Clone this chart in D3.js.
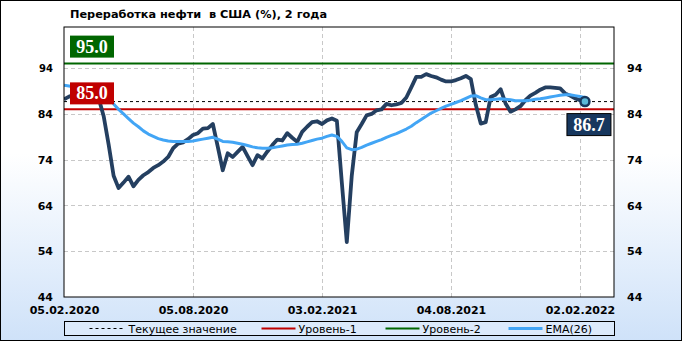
<!DOCTYPE html>
<html>
<head>
<meta charset="utf-8">
<script src="https://cdn.jsdelivr.net/npm/d3@7"></script>
<style>
  body { margin: 0; background: #fff; }
  svg { display: block; }
</style>
</head>
<body>
<div class="chart"></div>
<script>
  const title = 'Переработка нефти  в США (%), 2 года';
  const startDate = '05.02.2020';
  const endDate = '22.03.2022';
  // weekly refinery utilization, %
  const usage = [
    87.2, 87.8, 88.1, 88.4, 88.0, 87.6, 87.2, 87.4, 83.5, 77.3,
    70.5, 67.8, 69.0, 70.3, 68.2, 69.6, 70.6, 71.3, 72.2, 72.8,
    73.6, 74.6, 76.5, 77.5, 77.8, 78.5, 79.4, 79.8, 80.8, 80.9,
    81.8, 76.8, 71.7, 75.4, 74.6, 75.7, 76.8, 74.8, 72.8, 75.0,
    74.3, 75.8, 77.2, 78.4, 78.2, 79.8, 78.8, 77.9, 80.1, 81.2,
    82.2, 82.4, 81.8, 82.6, 83.0, 82.5, 69.0, 56.0, 70.5, 80.0,
    81.8, 83.7, 84.0, 84.8, 85.0, 86.2, 85.9, 86.1, 86.4, 87.6,
    89.8, 92.1, 92.1, 92.7, 92.3, 92.0, 91.5, 91.1, 91.1, 91.4,
    91.8, 92.3, 91.6, 86.0, 81.9, 82.2, 87.7, 88.2, 89.4, 86.3,
    84.5, 85.0, 85.7, 87.0, 88.0, 88.6, 89.3, 89.8, 89.8, 89.7,
    89.6, 88.5, 88.0, 87.4, 87.0, 86.7,
  ];
  const ema = [
    90.3, 90.1, 89.9, 89.7, 89.5, 89.3, 89.1, 88.9, 88.6, 87.6,
    86.2, 85.0, 84.0, 83.0, 82.0, 81.2, 80.3, 79.6, 79.1, 78.6,
    78.3, 78.1, 78.0, 78.0, 78.0, 78.0, 78.1, 78.3, 78.5, 78.7,
    78.9, 78.5, 78.0, 77.9, 77.8, 77.6, 77.4, 77.1, 76.8, 76.6,
    76.5, 76.5, 76.6, 76.8, 77.0, 77.2, 77.3, 77.4, 77.6, 77.9,
    78.2, 78.5, 78.7, 79.1, 79.4, 79.1, 78.0, 76.6, 76.2, 76.3,
    76.7, 77.2, 77.6, 78.0, 78.4, 78.9, 79.3, 79.7, 80.2, 80.7,
    81.3, 82.1, 82.8, 83.5, 84.2, 84.7, 85.2, 85.7, 86.1, 86.5,
    86.9, 87.4, 87.9, 88.0, 87.5, 87.1, 87.1, 87.2, 87.3, 87.2,
    87.1, 86.9, 86.9, 86.9, 87.0, 87.2, 87.3, 87.5, 87.7, 87.9,
    88.1, 88.2, 88.2, 88.0, 87.8, 87.6,
  ];
  const level1 = 85.0;
  const level2 = 95.0;
  const current = 86.7;
  const yTicks = [44, 54, 64, 74, 84, 94];
  const yDomain = [44, 103];
  const xTickLabels = ['05.02.2020', '05.08.2020', '03.02.2021', '04.08.2021', '02.02.2022'];
  const legendLabels = ['Текущее значение', 'Уровень-1', 'Уровень-2', 'EMA(26)'];

  const W = 682;
  const H = 341;
  const margin = { top: 27, right: 68, bottom: 44, left: 64 };
  const width = W - margin.left - margin.right;
  const height = H - margin.top - margin.bottom;

  const parse = d3.timeParse('%d.%m.%Y');
  const fmt = d3.timeFormat('%d.%m.%Y');
  const start = parse(startDate);
  const dates = usage.map((d, i) => d3.timeDay.offset(start, 7 * i));
  const xTicks = xTickLabels.map(parse);

  const svg = d3
    .select('.chart')
    .append('svg')
    .attr('width', W)
    .attr('height', H);

  const defs = svg.append('defs');
  const grad = defs
    .append('linearGradient')
    .attr('id', 'bg')
    .attr('x1', 0)
    .attr('y1', 0)
    .attr('x2', 0)
    .attr('y2', 1);
  grad.append('stop').attr('offset', '0%').attr('stop-color', '#ffffff');
  grad.append('stop').attr('offset', '45%').attr('stop-color', '#ffffff');
  grad.append('stop').attr('offset', '100%').attr('stop-color', '#cfe2f9');

  defs
    .append('clipPath')
    .attr('id', 'clip')
    .append('rect')
    .attr('width', width)
    .attr('height', height);

  svg
    .append('rect')
    .attr('x', 0.5)
    .attr('y', 0.5)
    .attr('width', W - 1)
    .attr('height', H - 1)
    .attr('fill', 'url(#bg)')
    .attr('stroke', '#000');

  svg
    .append('text')
    .attr('x', 70)
    .attr('y', 18)
    .attr('font-family', 'DejaVu Sans')
    .attr('font-weight', 'bold')
    .attr('font-size', '11.3px')
    .attr('fill', '#000')
    .style('white-space', 'pre')
    .text(title);

  const g = svg.append('g').attr('transform', `translate(${margin.left}, ${margin.top})`);

  const x = d3
    .scaleTime()
    .domain([start, parse(endDate)])
    .range([0, width]);
  const y = d3
    .scaleLinear()
    .domain(yDomain)
    .range([height, 0]);

  g.append('rect')
    .attr('width', width)
    .attr('height', height)
    .attr('fill', '#fff');

  // grid
  g.selectAll('.hgrid')
    .data(yTicks.slice(1))
    .enter()
    .append('line')
    .attr('x1', 0)
    .attr('x2', width)
    .attr('y1', d => Math.round(y(d)) + 0.5)
    .attr('y2', d => Math.round(y(d)) + 0.5)
    .attr('stroke', '#c8c8c8')
    .attr('stroke-dasharray', '4,3');
  g.selectAll('.vgrid')
    .data(xTicks.slice(1))
    .enter()
    .append('line')
    .attr('x1', d => Math.round(x(d)) + 0.5)
    .attr('x2', d => Math.round(x(d)) + 0.5)
    .attr('y1', 0)
    .attr('y2', height)
    .attr('stroke', '#c8c8c8')
    .attr('stroke-dasharray', '4,3');

  const plot = g.append('g').attr('clip-path', 'url(#clip)');

  // levels
  plot
    .append('line')
    .attr('x1', 0)
    .attr('x2', width)
    .attr('y1', y(level2))
    .attr('y2', y(level2))
    .attr('stroke', '#006600')
    .attr('stroke-width', 2);
  plot
    .append('line')
    .attr('x1', 0)
    .attr('x2', width)
    .attr('y1', y(level1))
    .attr('y2', y(level1))
    .attr('stroke', '#c00000')
    .attr('stroke-width', 2);
  plot
    .append('line')
    .attr('x1', 0)
    .attr('x2', width)
    .attr('y1', y(current))
    .attr('y2', y(current))
    .attr('stroke', '#000')
    .attr('stroke-width', 1)
    .attr('stroke-dasharray', '3,3');

  const line = d3
    .line()
    .x((d, i) => x(dates[i]))
    .y(d => y(d));

  plot
    .append('path')
    .datum(usage)
    .attr('d', line)
    .attr('fill', 'none')
    .attr('stroke', '#243f60')
    .attr('stroke-width', 3.8)
    .attr('stroke-linejoin', 'round');

  plot
    .append('path')
    .datum(ema)
    .attr('d', line)
    .attr('fill', 'none')
    .attr('stroke', '#42a5f5')
    .attr('stroke-width', 3)
    .attr('stroke-linejoin', 'round');

  // last point
  const lastI = usage.length - 1;
  g.append('circle')
    .attr('cx', x(dates[lastI]))
    .attr('cy', y(usage[lastI]))
    .attr('r', 4.5)
    .attr('fill', '#5bb8d8')
    .attr('stroke', '#17375e')
    .attr('stroke-width', 2.5);

  g.append('rect')
    .attr('width', width)
    .attr('height', height)
    .attr('fill', 'none')
    .attr('stroke', '#000');

  // axes
  const yLeft = d3.axisLeft(y).tickValues(yTicks).tickSize(0).tickPadding(11);
  const yRight = d3.axisRight(y).tickValues(yTicks).tickSize(0).tickPadding(13);
  const xAxis = d3.axisBottom(x).tickValues(xTicks).tickSize(0).tickPadding(9).tickFormat(fmt);

  [
    g.append('g').call(yLeft),
    g.append('g').attr('transform', `translate(${width}, 0)`).call(yRight),
    g.append('g').attr('transform', `translate(0, ${height})`).call(xAxis),
  ].forEach(a => {
    a.select('.domain').remove();
    a.selectAll('text')
      .attr('font-family', 'DejaVu Sans')
      .attr('font-weight', 'bold')
      .attr('fill', '#000');
  });
  g.selectAll('g.tick text').attr('font-size', '11px');
  g.select('g:last-of-type').selectAll('text').attr('font-size', '10px');

  // value labels
  const boxes = [
    { text: level2.toFixed(1), bx: 6, by: y(level2) - 28, fill: '#006600', stroke: 'none' },
    { text: level1.toFixed(1), bx: 6, by: y(level1) - 27, fill: '#c00000', stroke: 'none' },
    { text: current.toFixed(1), bx: x(dates[lastI]) - 18, by: y(current) + 12, fill: '#17375e', stroke: '#000' },
  ];
  const bw = 44;
  const bh = 22;
  const bg = g
    .selectAll('.vbox')
    .data(boxes)
    .enter()
    .append('g')
    .attr('transform', d => `translate(${d.bx}, ${d.by})`);
  bg.append('rect')
    .attr('width', bw)
    .attr('height', bh)
    .attr('fill', d => d.fill)
    .attr('stroke', d => d.stroke);
  bg.append('text')
    .attr('x', bw / 2)
    .attr('y', bh / 2 + 6)
    .attr('text-anchor', 'middle')
    .attr('font-family', 'Liberation Serif')
    .attr('font-weight', 'bold')
    .attr('font-size', '18px')
    .attr('fill', '#fff')
    .text(d => d.text);

  // Legend
  const legend = svg.append('g').attr('transform', 'translate(64.5, 321.5)');
  legend
    .append('rect')
    .attr('width', 550)
    .attr('height', 14)
    .attr('fill', '#dceafb')
    .attr('stroke', '#000');
  const legendX = [25, 197, 321, 444];
  const legendStyle = [
    { color: '#000', w: 1, dash: '3,3' },
    { color: '#c00000', w: 2, dash: null },
    { color: '#006600', w: 2, dash: null },
    { color: '#42a5f5', w: 3, dash: null },
  ];
  const items = legend
    .selectAll('.item')
    .data(legendLabels)
    .enter()
    .append('g')
    .attr('transform', (d, i) => `translate(${legendX[i]}, 7)`);
  items
    .append('line')
    .attr('x1', 0)
    .attr('x2', 34)
    .attr('stroke', (d, i) => legendStyle[i].color)
    .attr('stroke-width', (d, i) => legendStyle[i].w)
    .attr('stroke-dasharray', (d, i) => legendStyle[i].dash);
  items
    .append('text')
    .attr('x', (d, i) => (i === 0 ? 39 : 37))
    .attr('y', 4)
    .attr('font-family', 'DejaVu Sans')
    .attr('font-size', '11px')
    .attr('fill', '#000')
    .text(d => d);
</script>
</body>
</html>
